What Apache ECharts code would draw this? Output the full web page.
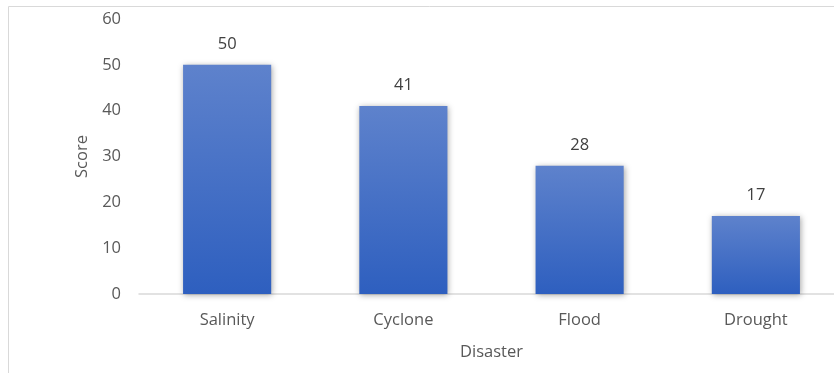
<!DOCTYPE html>
<html>
<head>
<meta charset="utf-8">
<script src="https://cdn.jsdelivr.net/npm/echarts@6/dist/echarts.min.js"></script>
<style>
  html, body { margin: 0; padding: 0; background: #fff; overflow: hidden; }
  #chart { width: 850px; height: 373px; }
</style>
</head>
<body>
<div id="chart"></div>
<script>
const categories = ['Salinity', 'Cyclone', 'Flood', 'Drought'];
const scores = [50, 41, 28, 17];
const yTicks = { min: 0, max: 60, interval: 10 };

const font = '"Open Sans", "Liberation Sans", sans-serif';
const textColor = '#595959';

const chart = echarts.init(document.getElementById('chart'));
chart.setOption({
  animation: false,
  textStyle: { fontFamily: font },
  graphic: [{
    type: 'rect',
    shape: { x: 8.5, y: 6.5, width: 900, height: 500 },
    style: { fill: 'none', stroke: '#d9d9d9', lineWidth: 1 },
    silent: true
  }],
  grid: { left: 139, top: 19, width: 705, height: 275, containLabel: false },
  xAxis: {
    type: 'category',
    data: categories,
    name: 'Disaster',
    nameLocation: 'middle',
    nameGap: 50,
    nameTextStyle: { color: textColor, fontSize: 16.5, fontFamily: font },
    axisLine: { lineStyle: { color: '#d9d9d9', width: 1.5 } },
    axisTick: { show: false },
    axisLabel: { color: textColor, fontSize: 16.5, margin: 18, fontFamily: font }
  },
  yAxis: {
    type: 'value',
    min: yTicks.min,
    max: yTicks.max,
    interval: yTicks.interval,
    name: 'Score',
    nameLocation: 'middle',
    nameGap: 48,
    nameTextStyle: { color: textColor, fontSize: 16.5, fontFamily: font },
    axisLine: { show: false },
    axisTick: { show: false },
    splitLine: { show: false },
    axisLabel: { color: textColor, fontSize: 16.5, margin: 18, fontFamily: font }
  },
  series: [{
    type: 'bar',
    data: scores,
    barWidth: '50%',
    itemStyle: {
      color: new echarts.graphic.LinearGradient(0, 0, 0, 1, [
        { offset: 0, color: '#5e82cc' },
        { offset: 1, color: '#2e5fbf' }
      ]),
      shadowColor: 'rgba(0,0,0,0.35)',
      shadowBlur: 6,
      shadowOffsetX: 1,
      shadowOffsetY: 1
    },
    label: {
      show: true,
      position: 'top',
      distance: 12,
      color: '#404040',
      fontSize: 16.5,
      fontFamily: font
    }
  }]
});
</script>
</body>
</html>
